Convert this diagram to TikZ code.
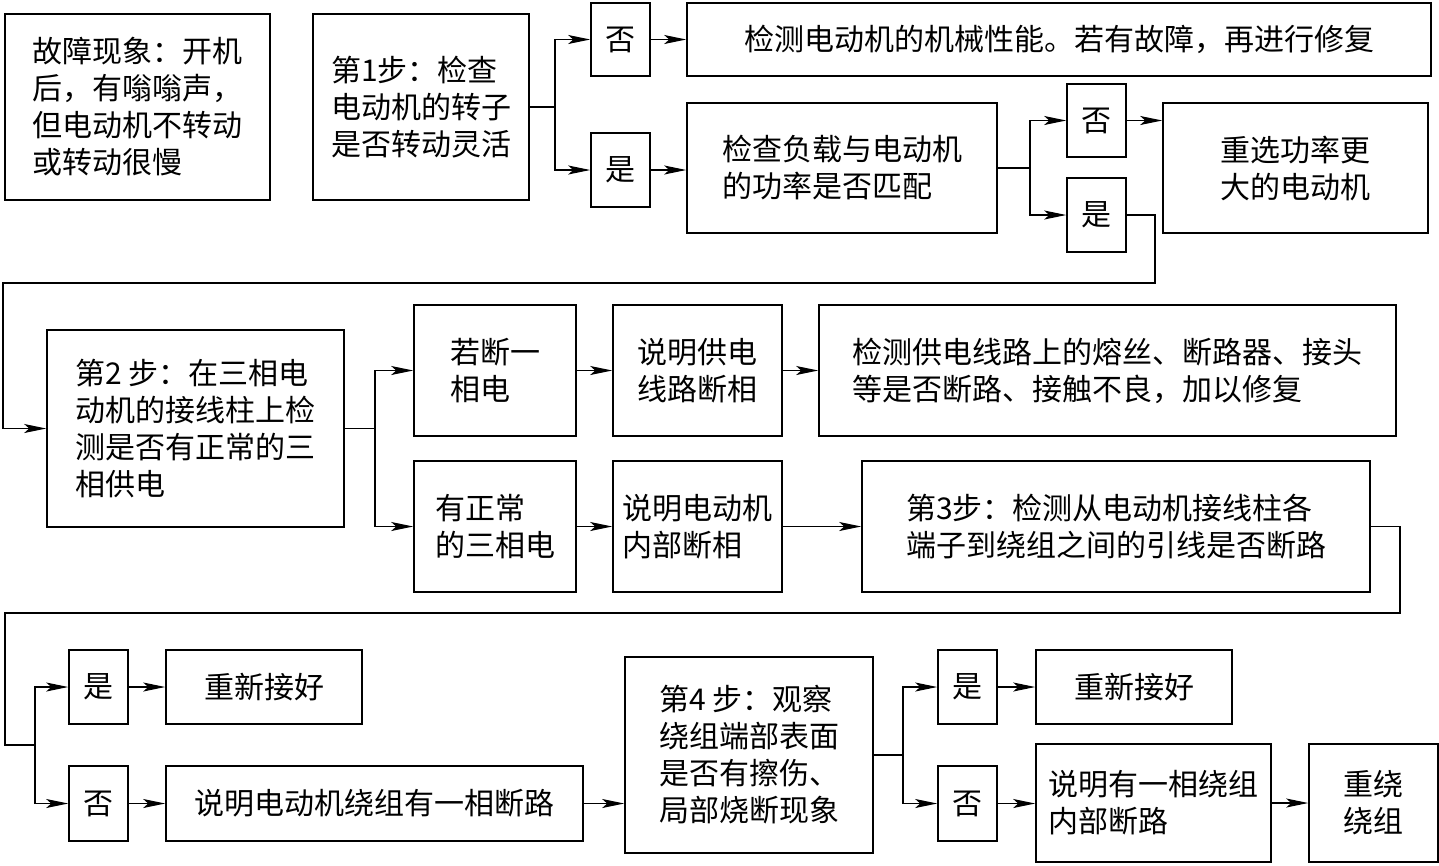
\documentclass[tikz,border=0pt]{standalone}
\usepackage{fontspec}
\newfontfamily\cjk{Noto Sans CJK SC}
\usepackage{tikz}
\usetikzlibrary{arrows.meta,positioning}

\begin{document}
\begin{tikzpicture}[
        x=1pt, y=-1pt,
        font=\cjk\fontsize{30}{37}\selectfont,
        box/.style={draw, line width=1.6pt, align=left, inner sep=0pt},
        tag/.style={box, minimum width=59pt, minimum height=74pt},
        line/.style={-{Stealth[length=22pt,width=9pt,inset=5pt]}, line width=1.1pt}
    ]
        \useasboundingbox (0,0) rectangle (1439,865);

        \node[box, minimum width=265pt, minimum height=186pt] (fault) at (137.5,107) {故障现象：开机\\后，有嗡嗡声，\\但电动机不转动\\或转动很慢};
        \node[box, minimum width=216pt, minimum height=186pt] (step1) at (421,107) {第1步：检查\\电动机的转子\\是否转动灵活};
        \node[tag, minimum height=73pt] (no1) at (620.5,39.5) {否};
        \node[box, minimum width=744pt, minimum height=73pt] (check1) at (1059,39.5) {检测电动机的机械性能。若有故障，再进行修复};
        \node[tag] (yes1) at (620.5,170) {是};
        \node[box, minimum width=310pt, minimum height=130pt] (load) at (842,168) {检查负载与电动机\\的功率是否匹配};
        \node[tag, minimum height=73pt] (no2) at (1096.5,120.5) {否};
        \node[tag] (yes2) at (1096.5,215) {是};
        \node[box, minimum width=265pt, minimum height=130pt] (bigger) at (1295.5,168) {重选功率更\\大的电动机};

        \node[box, minimum width=297pt, minimum height=197pt] (step2) at (195.5,428.5) {第2 步：在三相电\\动机的接线柱上检\\测是否有正常的三\\相供电};
        \node[box, minimum width=162pt, minimum height=131pt] (cut) at (495,370.5) {若断一\\相电};
        \node[box, minimum width=169pt, minimum height=131pt] (supply) at (697.5,370.5) {说明供电\\线路断相};
        \node[box, minimum width=577pt, minimum height=131pt] (fuse) at (1107.5,370.5) {检测供电线路上的熔丝、断路器、接头\\等是否断路、接触不良，加以修复};
        \node[box, minimum width=162pt, minimum height=131pt] (normal) at (495,526.5) {有正常\\的三相电};
        \node[box, minimum width=169pt, minimum height=131pt] (inner) at (697.5,526.5) {说明电动机\\内部断相};
        \node[box, minimum width=508pt, minimum height=131pt] (step3) at (1116,526.5) {第3步：检测从电动机接线柱各\\端子到绕组之间的引线是否断路};

        \node[tag] (yes3) at (98.5,687) {是};
        \node[box, minimum width=196pt, minimum height=74pt] (recon1) at (264,687) {重新接好};
        \node[tag, minimum height=75pt] (no3) at (98.5,803.5) {否};
        \node[box, minimum width=417pt, minimum height=75pt] (broken) at (374.5,803.5) {说明电动机绕组有一相断路};
        \node[box, minimum width=248pt, minimum height=196pt] (step4) at (749,755) {第4 步：观察\\绕组端部表面\\是否有擦伤、\\局部烧断现象};
        \node[tag] (yes4) at (967.5,687) {是};
        \node[box, minimum width=196pt, minimum height=74pt] (recon2) at (1134,687) {重新接好};
        \node[tag, minimum height=75pt] (no4) at (967.5,803.5) {否};
        \node[box, minimum width=235pt, minimum height=118pt] (winding) at (1153.5,803) {说明有一相绕组\\内部断路};
        \node[box, minimum width=129pt, minimum height=118pt] (rewind) at (1373.5,803) {重绕\\绕组};

        \coordinate (j1) at (555,107);
        \coordinate (j2) at (1030,168);
        \coordinate (r1) at (1155,283);
        \coordinate (l1) at (3,283);
        \coordinate (j3) at (375,428.5);
        \coordinate (r2) at (1400,613);
        \coordinate (l2) at (5,613);
        \coordinate (j4) at (35,745);
        \coordinate (j5) at (903,755);

        \draw[line width=1.1pt] (step1.east) -- (j1);
        \draw[line] (j1) |- (no1);
        \draw[line] (j1) |- (yes1);
        \draw[line] (no1) -- (check1);
        \draw[line] (yes1.east) -- (yes1.east -| load.west);
        \draw[line width=1.1pt] (load.east) -- (j2);
        \draw[line] (j2) |- (no2);
        \draw[line] (j2) |- (yes2);
        \draw[line] (no2.east) -- (no2.east -| bigger.west);
        \draw[line] (yes2.east) -| (r1) -- (l1) |- (step2.west);

        \draw[line width=1.1pt] (step2.east) -- (j3);
        \draw[line] (j3) |- (cut);
        \draw[line] (j3) |- (normal);
        \draw[line] (cut) -- (supply);
        \draw[line] (supply) -- (fuse);
        \draw[line] (normal) -- (inner);
        \draw[line] (inner) -- (step3);
        \draw[line width=1.1pt] (step3.east) -| (r2) -- (l2) |- (j4);

        \draw[line] (j4) |- (yes3);
        \draw[line] (j4) |- (no3);
        \draw[line] (yes3) -- (recon1);
        \draw[line] (no3) -- (broken);
        \draw[line] (broken.east) -- (broken.east -| step4.west);
        \draw[line width=1.1pt] (step4.east) -- (j5);
        \draw[line] (j5) |- (yes4);
        \draw[line] (j5) |- (no4);
        \draw[line] (yes4) -- (recon2);
        \draw[line] (no4.east) -- (no4.east -| winding.west);
        \draw[line] (winding) -- (rewind);
    \end{tikzpicture}
\end{document}
